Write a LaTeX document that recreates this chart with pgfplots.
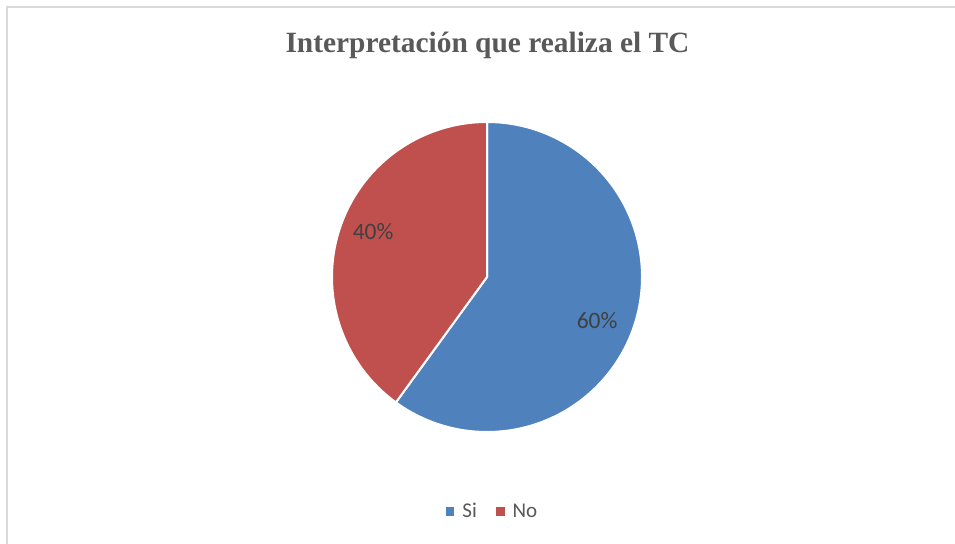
\documentclass[border=0pt]{standalone}
\usepackage{fontspec}
\usepackage{pgfplots}
\usepackage{pgfplotstable}
\pgfplotsset{compat=1.18}
\setmainfont{Carlito}
\newfontfamily\titlefont{Liberation Serif}
\definecolor{siblue}{HTML}{4F81BD}
\definecolor{nored}{HTML}{C0504D}
\definecolor{txtgray}{HTML}{595959}
\definecolor{lblgray}{HTML}{404040}
\definecolor{framegray}{HTML}{D9D9D9}

\pgfplotstableread{
label value
Si 60
No 40
}\piedata
\pgfplotstablegetelem{0}{value}\of\piedata \let\vSi\pgfplotsretval
\pgfplotstablegetelem{1}{value}\of\piedata \let\vNo\pgfplotsretval
\pgfmathsetmacro\aStart{90}
\pgfmathsetmacro\aMid{90-3.6*\vSi}
\pgfmathsetmacro\aEnd{\aMid-3.6*\vNo}

\begin{document}
\begin{tikzpicture}[x=1bp,y=1bp]
\useasboundingbox (0,0) rectangle (955,544);
\fill[white] (0,0) rectangle (955,544);
\draw[framegray, line width=1.3bp] (7,-20) -- (7,537) -- (975,537);
\node[anchor=base, text=txtgray, font=\titlefont\bfseries\fontsize{29.4bp}{34bp}\selectfont] at (487.5,491) {Interpretación que realiza el TC};
\begin{axis}[
  at={(487bp,267bp)}, anchor=center,
  x=155bp, y=155bp,
  xmin=-1.1, xmax=1.1, ymin=-1.1, ymax=1.1,
  hide axis,
  legend columns=2,
  legend style={at={(axis cs:0.035,-1.513)}, anchor=center, draw=none, fill=none,
    font=\fontsize{21bp}{24bp}\selectfont, text=txtgray,
    /tikz/every odd column/.append style={column sep=6bp},
    /tikz/every even column/.append style={column sep=17bp},
    inner sep=0pt},
  legend image code/.code={\fill[#1, draw=none] (0bp,-4.3bp) rectangle (8.7bp,4.4bp);},
]
\addplot[fill=siblue, draw=white, line width=2bp, domain=\aMid:\aStart, samples=160, variable=\t]
  ({cos(\t)},{sin(\t)}) -- (axis cs:0,0) -- cycle;
\addlegendentry{Si}
\addplot[fill=nored, draw=white, line width=2bp, domain=\aEnd:\aMid, samples=120, variable=\t]
  ({cos(\t)},{sin(\t)}) -- (axis cs:0,0) -- cycle;
\addlegendentry{No}
\node[anchor=base, text=lblgray, font=\fontsize{23.5bp}{26bp}\selectfont] at (axis cs:0.71,-0.335) {60\%};
\node[anchor=base, text=lblgray, font=\fontsize{23.5bp}{26bp}\selectfont] at (axis cs:-0.735,0.245) {40\%};
\end{axis}
\end{tikzpicture}
\end{document}
